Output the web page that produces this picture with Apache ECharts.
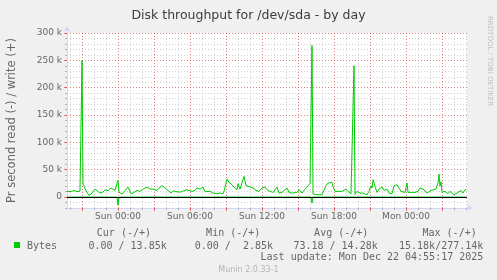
<!DOCTYPE html>
<html>
<head>
<meta charset="utf-8">
<script src="https://cdn.jsdelivr.net/npm/echarts@6/dist/echarts.min.js"></script>
<style>html,body{margin:0;padding:0;background:#F0F0F0;}#c{width:497px;height:280px;}</style>
</head>
<body>
<div id="c"></div>
<script>
// ---- data (time = minutes since Sat 00:00, values in kB/s) ----
const chartTitle = 'Disk throughput for /dev/sda - by day';
const yName = 'Pr second read (-) / write (+)';
const seriesName = 'Bytes';
const timeStart = 1185;   // Sat 19:45
const timeEnd = 3185;     // Mon 05:05

const writeTimes = [1185,1195,1205,1220,1235,1250,1255,1260,1265,1270,1280,1295,1310,1325,1335,1350,1365,1375,1390,1405,1415,1425,1435,1440,1445,1460,1475,1490,1505,1520,1535,1550,1565,1575,1585,1600,1615,1635,1645,1660,1665,1675,1690,1705,1715,1730,1740,1755,1765,1780,1790,1810,1825,1835,1850,1865,1875,1885,1900,1915,1925,1935,1950,1965,1970,1985,1995,2010,2020,2035,2040,2050,2060,2070,2080,2095,2115,2130,2145,2160,2175,2185,2200,2215,2225,2235,2245,2260,2270,2285,2295,2310,2320,2335,2345,2360,2370,2380,2390,2400,2405,2410,2415,2430,2440,2460,2470,2480,2490,2500,2510,2515,2525,2540,2560,2570,2580,2590,2605,2615,2620,2625,2635,2650,2665,2675,2685,2695,2705,2710,2715,2725,2735,2745,2760,2770,2785,2795,2810,2820,2835,2845,2855,2865,2875,2885,2890,2910,2925,2940,2950,2960,2970,2985,2995,3005,3015,3030,3040,3045,3050,3055,3060,3075,3090,3100,3110,3120,3135,3145,3155,3165,3175,3180];
const writeValues = [10.5,12.5,10.0,12.0,10.0,11.0,11.5,250.0,24.0,22.6,12.0,2.85,7.3,14.6,12.2,7.3,9.0,13.4,11.6,16.5,19.5,12.2,14.6,30.5,9.0,5.5,11.6,18.3,6.1,8.5,12.2,10.4,14.6,16.5,18.3,14.6,14.6,12.2,16.5,20.7,22.6,16.5,12.2,7.3,11.6,9.8,13.4,9.2,12.2,13.4,10.4,10.4,12.2,16.5,14.6,18.3,9.8,8.5,10.4,7.3,7.3,6.1,7.3,6.1,10.4,33.0,26.8,22.6,18.3,13.4,24.4,14.6,16.5,37.8,20.7,19.5,16.5,12.2,10.4,16.5,18.3,13.4,10.4,8.5,9.8,18.3,7.3,8.5,10.4,16.5,8.5,7.3,10.4,8.5,13.4,7.3,12.2,16.5,20.7,24.4,26.0,277.14,6.1,4.3,4.3,4.3,7.3,20.7,25.6,24.4,26.8,19.5,10.4,10.4,10.4,8.5,14.6,10.4,6.1,8.5,240.0,5.0,10.4,7.3,7.3,7.3,4.3,10.4,20.7,16.5,31.7,19.5,8.5,14.6,18.3,12.2,14.6,7.3,6.1,20.7,22.6,20.7,10.4,7.3,8.5,25.6,8.5,8.5,8.5,10.4,16.5,19.5,13.4,7.3,6.1,12.2,10.4,14.6,25.6,42.0,20.0,28.0,8.5,10.4,6.1,10.4,7.3,4.3,7.3,6.1,12.2,7.3,13.4,13.85];

const readTimes = [1185,1435,1440,1445,2405,2410,2415,3180];
const readValues = [0,0,-15.18,0,0,-11.0,0,0];

const xLabelValues = [1440,1800,2160,2520,2880];
const xLabelTexts = ['Sun 00:00','Sun 06:00','Sun 12:00','Sun 18:00','Mon 00:00'];
const xMajorGrid = [1260,1440,1620,1800,1980,2160,2340,2520,2700,2880,3060];
const yMajorTicks = [0,50,100,150,200,250,300];
const yMin = -20, yMax = 300;

const legendHeaders = ['Cur (-/+)','Min (-/+)','Avg (-/+)','Max (-/+)'];
const legendValues = ['0.00 / 13.85k','0.00 /  2.85k','73.18 / 14.28k','15.18k/277.14k'];
const lastUpdate = 'Last update: Mon Dec 22 04:55:17 2025';
const versionText = 'Munin 2.0.33-1';
const watermark = 'RRDTOOL / TOBI OETIKER';

// ---- build ----
const hourTicks = [];
for (let t = Math.ceil(timeStart/60)*60; t <= timeEnd; t += 60) hourTicks.push(t);

const writeData = writeTimes.map((t,i)=>[t, writeValues[i]]);
const readData = readTimes.map((t,i)=>[t, readValues[i]]);

const GREEN = '#00CC00';
const AXIS = '#CFD6F8';
const FONT = '#666666';
const minorLine = {color:'rgba(140,140,140,0.4)', width:1, type:[1,2]};
const majorLine = {color:'rgba(255,0,0,0.38)', width:1, type:[1,2]};
const mono = '10px "DejaVu Sans Mono"';

const baseX = {type:'value', min:timeStart, max:timeEnd, position:'bottom',
  axisLine:{show:false, onZero:false}, axisLabel:{show:false}, axisTick:{show:false}, splitLine:{show:false}};
const baseY = {type:'value', min:yMin, max:yMax, position:'left',
  axisLine:{show:false, onZero:false}, axisLabel:{show:false}, axisTick:{show:false}, splitLine:{show:false}};

const colCurRight = [166.7, 273, 377.7, 483.3];
const colHeadRight = [151, 260.3, 368.3, 476.7];
const graphics = [
  {type:'rect', shape:{x:14, y:242, width:6, height:6}, style:{fill:GREEN}},
  {type:'text', x:27, y:246, style:{text:seriesName, font:mono, fill:FONT, align:'left', verticalAlign:'middle', textAlign:'left', textVerticalAlign:'middle'}},
  {type:'text', x:483.3, y:257.5, style:{text:lastUpdate, font:mono, fill:FONT, align:'right', verticalAlign:'middle', textAlign:'right', textVerticalAlign:'middle'}},
  {type:'text', x:248.5, y:269.5, style:{text:versionText, font:'8px "DejaVu Sans"', fill:'#B4B4B4', align:'center', verticalAlign:'middle', textAlign:'center', textVerticalAlign:'middle'}},
  {type:'text', x:490, y:16, rotation:-Math.PI/2, style:{text:watermark, font:'7px "DejaVu Sans"', fill:'#C0C0C0', align:'left', verticalAlign:'middle', textAlign:'left', textVerticalAlign:'middle'}}
];
legendHeaders.forEach((h,i)=>graphics.push({type:'text', x:colHeadRight[i], y:233.5,
  style:{text:h, font:mono, fill:FONT, align:'right', verticalAlign:'middle', textAlign:'right', textVerticalAlign:'middle'}}));
legendValues.forEach((v,i)=>graphics.push({type:'text', x:colCurRight[i], y:246,
  style:{text:v, font:mono, fill:FONT, align:'right', verticalAlign:'middle', textAlign:'right', textVerticalAlign:'middle'}}));

const option = {
  animation:false,
  backgroundColor:'#F0F0F0',
  textStyle:{fontFamily:'DejaVu Sans'},
  title:{text:chartTitle, left:'center', top:4,
    textStyle:{fontFamily:'DejaVu Sans', fontSize:12.5, fontWeight:'normal', color:'#3C3C3C'}},
  grid:{left:67, right:30, top:33, bottom:72, show:true, backgroundColor:'#FFFFFF', borderWidth:0,
    containLabel:false, outerBoundsMode:'none'},
  xAxis:[
    Object.assign({}, baseX, {
      axisLine:{show:true, onZero:false, lineStyle:{color:AXIS, width:1}, symbol:['none','arrow'], symbolSize:[5,6], symbolOffset:[0,6]},
      axisTick:{show:true, length:2, customValues:hourTicks, lineStyle:{color:'rgba(140,140,140,0.6)'}},
      splitLine:{show:true, lineStyle:minorLine}}),
    Object.assign({}, baseX, {
      axisTick:{show:true, length:3, customValues:xMajorGrid, lineStyle:{color:'rgba(255,0,0,0.5)'}},
      splitLine:{show:true, lineStyle:majorLine}}),
    Object.assign({}, baseX, {
      axisTick:{show:false, customValues:xLabelValues},
      axisLabel:{show:true, customValues:xLabelValues, margin:4, color:FONT, fontSize:9, fontFamily:'DejaVu Sans',
        formatter:(v)=>xLabelTexts[xLabelValues.indexOf(v)]}})
  ],
  yAxis:[
    Object.assign({}, baseY, {
      interval:10,
      name:yName, nameLocation:'middle', nameGap:49, nameRotate:90,
      nameTextStyle:{color:FONT, fontSize:11.5, fontFamily:'DejaVu Sans'},
      axisLine:{show:true, onZero:false, lineStyle:{color:AXIS, width:1}, symbol:['none','arrow'], symbolSize:[5,6], symbolOffset:[0,7]},
      axisTick:{show:true, length:2, lineStyle:{color:'rgba(140,140,140,0.6)'}},
      splitLine:{show:true, lineStyle:minorLine}}),
    Object.assign({}, baseY, {
      axisTick:{show:true, length:3, customValues:yMajorTicks, lineStyle:{color:'rgba(255,0,0,0.5)'}},
      axisLabel:{show:true, customValues:yMajorTicks, margin:5, color:FONT, fontSize:9, fontFamily:'DejaVu Sans',
        formatter:(v)=> v === 0 ? '0' : v + ' k'},
      splitLine:{show:true, lineStyle:majorLine}})
  ],
  series:[
    {type:'line', name:seriesName+' read', data:readData, xAxisIndex:0, yAxisIndex:0,
      showSymbol:false, symbol:'none', lineStyle:{color:GREEN, width:1}, itemStyle:{color:GREEN}, silent:true, z:3},
    {type:'line', name:seriesName, data:writeData, xAxisIndex:0, yAxisIndex:0,
      showSymbol:false, symbol:'none', lineStyle:{color:GREEN, width:1}, itemStyle:{color:GREEN}, silent:true, z:3,
      markLine:{silent:true, symbol:['none','none'], label:{show:false}, lineStyle:{color:'#000000', width:1, type:'solid'},
        data:[{yAxis:0}], z:5}}
  ],
  graphic:graphics
};
const chart = echarts.init(document.getElementById('c'), null, {renderer:'canvas'});
chart.setOption(option);
</script>
</body>
</html>
